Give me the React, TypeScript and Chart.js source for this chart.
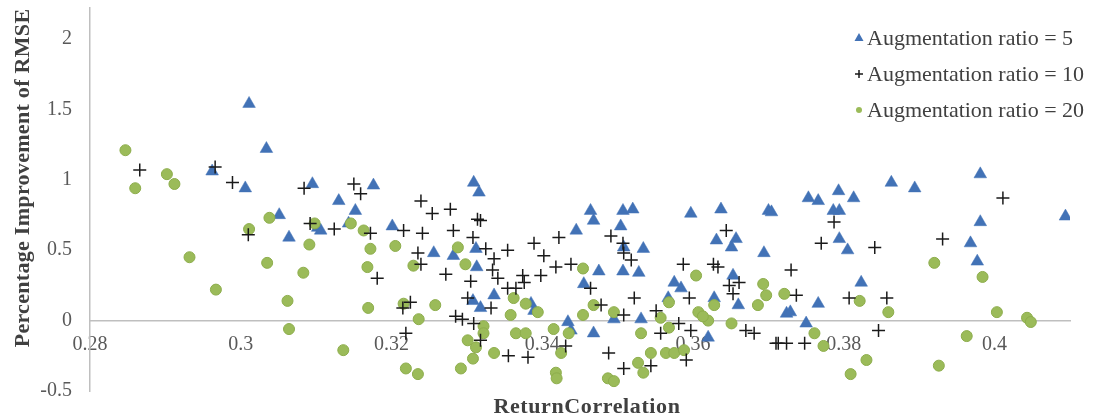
import React, { useEffect, useRef } from 'react';
import { Chart, registerables } from 'chart.js';

Chart.register(...registerables);

// ---- Data ----
const seriesLabels = ['Augmentation ratio = 5', 'Augmentation ratio = 10', 'Augmentation ratio = 20'];
const xTitle = 'ReturnCorrelation';
const yTitle = 'Percentage Improvement of RMSE';
const xTicks = [0.28, 0.3, 0.32, 0.34, 0.36, 0.38, 0.4];
const yTicks = [-0.5, 0, 0.5, 1, 1.5, 2];

// Augmentation ratio = 5 (blue triangles): [ReturnCorrelation, improvement]
const ratio5: [number, number][] = [
  [0.3011, 1.54], [0.3034, 1.22], [0.2962, 1.06], [0.3006, 0.94], [0.3051, 0.75],
  [0.3064, 0.59], [0.3095, 0.97], [0.3102, 0.66], [0.3176, 0.96], [0.3130, 0.85],
  [0.3152, 0.78], [0.3106, 0.64], [0.3143, 0.69], [0.3201, 0.67], [0.3256, 0.48],
  [0.3282, 0.46], [0.3309, 0.98], [0.3316, 0.91], [0.3312, 0.51], [0.3313, 0.38],
  [0.3308, 0.14], [0.3318, 0.09], [0.3336, 0.18], [0.3445, 0.64], [0.3464, 0.78],
  [0.3468, 0.71], [0.3475, 0.35], [0.3507, 0.78], [0.3504, 0.67], [0.3507, 0.35],
  [0.3455, 0.26], [0.3434, -0.01], [0.3438, -0.07], [0.3468, -0.09], [0.3495, 0.01],
  [0.3508, 0.52], [0.3385, 0.12], [0.3389, 0.07], [0.3520, 0.79], [0.3534, 0.51],
  [0.3528, 0.34], [0.3597, 0.76], [0.3637, 0.79], [0.3700, 0.78], [0.3631, 0.57],
  [0.3657, 0.58], [0.3651, 0.52], [0.3694, 0.48], [0.3575, 0.27], [0.3584, 0.23],
  [0.3653, 0.32], [0.3567, 0.16], [0.3628, 0.16], [0.3660, 0.11], [0.3531, 0.01],
  [0.3620, -0.12], [0.3704, 0.77], [0.3753, 0.87], [0.3766, 0.85], [0.3793, 0.92],
  [0.3813, 0.87], [0.3786, 0.78], [0.3794, 0.78], [0.3794, 0.58], [0.3805, 0.50],
  [0.3863, 0.98], [0.3894, 0.94], [0.3823, 0.27], [0.3766, 0.12], [0.3724, 0.05],
  [0.3729, 0.06], [0.3750, -0.02], [0.3981, 1.04], [0.4094, 0.74], [0.3981, 0.70],
  [0.3968, 0.55], [0.3977, 0.42],
];

// Augmentation ratio = 10 (black crosses)
const ratio10: [number, number][] = [
  [0.2866, 1.07], [0.2966, 1.09], [0.2989, 0.98], [0.3010, 0.61], [0.3084, 0.94],
  [0.3092, 0.69], [0.3150, 0.97], [0.3159, 0.90], [0.3124, 0.65], [0.3172, 0.62],
  [0.3216, 0.64], [0.3239, 0.85], [0.3254, 0.76], [0.3278, 0.79], [0.3241, 0.62],
  [0.3282, 0.64], [0.3235, 0.48], [0.3239, 0.40], [0.3272, 0.33], [0.3181, 0.30],
  [0.3314, 0.72], [0.3308, 0.59], [0.3215, 0.09], [0.3225, 0.13], [0.3219, -0.09],
  [0.3285, 0.03], [0.3294, 0.01], [0.3305, 0.28], [0.3301, 0.16], [0.3309, -0.02],
  [0.3318, 0.71], [0.3325, 0.51], [0.3336, 0.44], [0.3354, 0.50], [0.3389, 0.55],
  [0.3402, 0.46], [0.3422, 0.59], [0.3418, 0.38], [0.3438, 0.40], [0.3398, 0.32],
  [0.3374, 0.32], [0.3376, 0.27], [0.3334, 0.36], [0.3341, 0.30], [0.3354, 0.23],
  [0.3365, 0.23], [0.3332, 0.09], [0.3318, -0.14], [0.3355, -0.25], [0.3381, -0.26],
  [0.3431, -0.18], [0.3464, 0.23], [0.3478, 0.11], [0.3491, 0.60], [0.3507, 0.55],
  [0.3508, 0.48], [0.3508, 0.04], [0.3488, -0.23], [0.3508, -0.34], [0.3518, 0.43],
  [0.3644, 0.64], [0.3587, 0.40], [0.3627, 0.40], [0.3633, 0.38], [0.3648, 0.25],
  [0.3661, 0.27], [0.3653, 0.19], [0.3595, 0.16], [0.3522, 0.16], [0.3551, 0.07],
  [0.3581, -0.02], [0.3557, -0.09], [0.3597, -0.07], [0.3670, -0.07], [0.3681, -0.09],
  [0.3710, -0.16], [0.3591, -0.28], [0.3544, -0.32], [0.3787, 0.70], [0.3770, 0.55],
  [0.3841, 0.52], [0.3730, 0.36], [0.3737, 0.18], [0.3807, 0.16], [0.3857, 0.16],
  [0.3846, -0.07], [0.3713, -0.16], [0.3724, -0.16], [0.3748, -0.16], [0.4011, 0.87],
  [0.3931, 0.58],
];

// Augmentation ratio = 20 (green circles)
const ratio20: [number, number][] = [
  [0.2847, 1.21], [0.2902, 1.04], [0.2860, 0.94], [0.2912, 0.97], [0.2932, 0.45],
  [0.2967, 0.22], [0.3011, 0.65], [0.3038, 0.73], [0.3035, 0.41], [0.3062, 0.14],
  [0.3064, -0.06], [0.3091, 0.54], [0.3083, 0.34], [0.3098, 0.69], [0.3146, 0.69],
  [0.3163, 0.64], [0.3172, 0.51], [0.3205, 0.53], [0.3168, 0.38], [0.3229, 0.39],
  [0.3288, 0.52], [0.3298, 0.40], [0.3169, 0.09], [0.3216, 0.12], [0.3258, 0.11],
  [0.3236, 0.01], [0.3136, -0.21], [0.3219, -0.34], [0.3235, -0.38], [0.3292, -0.34],
  [0.3301, -0.14], [0.3308, -0.27], [0.3312, -0.19], [0.3454, 0.37], [0.3362, 0.16],
  [0.3378, 0.12], [0.3394, 0.06], [0.3358, 0.04], [0.3322, -0.04], [0.3322, -0.09],
  [0.3365, -0.09], [0.3378, -0.09], [0.3415, -0.06], [0.3336, -0.23], [0.3425, -0.23],
  [0.3418, -0.37], [0.3419, -0.41], [0.3454, 0.04], [0.3468, 0.11], [0.3495, 0.06],
  [0.3487, -0.41], [0.3495, -0.43], [0.3604, 0.32], [0.3568, 0.13], [0.3557, 0.02],
  [0.3568, -0.05], [0.3607, 0.06], [0.3620, 0.00], [0.3613, 0.03], [0.3628, 0.11],
  [0.3651, -0.02], [0.3531, -0.09], [0.3544, -0.23], [0.3564, -0.23], [0.3575, -0.23],
  [0.3588, -0.21], [0.3527, -0.30], [0.3534, -0.37], [0.3693, 0.26], [0.3697, 0.18],
  [0.3686, 0.11], [0.3721, 0.19], [0.3821, 0.14], [0.3859, 0.06], [0.3761, -0.09],
  [0.3773, -0.18], [0.3830, -0.28], [0.3809, -0.38], [0.3920, 0.41], [0.3984, 0.31],
  [0.4003, 0.06], [0.4043, 0.02], [0.4048, -0.01], [0.3963, -0.11], [0.3926, -0.32],
  [0.3435, -0.09],
];

// ---- Styles ----
const BLUE = '#4272B6';
const BLACK = '#1a1a1a';
const GREEN = '#9BBB59';
const AXIS = '#BFBFBF';
const TICK_COLOR = '#595959';
const TEXT_COLOR = '#404040';
const FONT = '"Liberation Serif", "Times New Roman", serif';

const overlayPlugin = {
  id: 'overlay',
  afterDraw(chart: any) {
    const ctx: any = chart.ctx;
    ctx.save();
    // axis titles
    ctx.fillStyle = TEXT_COLOR;
    ctx.font = `bold 22px ${FONT}`;
    ctx.textAlign = 'center';
    ctx.textBaseline = 'middle';
    ctx.letterSpacing = '0.6px';
    ctx.fillText(xTitle, 587, 407);
    ctx.save();
    ctx.letterSpacing = '0.3px';
    ctx.translate(23, 178);
    ctx.rotate(-Math.PI / 2);
    ctx.fillText(yTitle, 0, 0);
    ctx.restore();
    ctx.letterSpacing = '0px';

    // legend
    const rows = [38, 74, 110];
    const mx = 859;
    ctx.font = `22px ${FONT}`;
    ctx.textAlign = 'left';
    ctx.fillStyle = TEXT_COLOR;
    seriesLabels.forEach((label, i) => {
      const y = rows[i];
      ctx.save();
      if (i === 0) {
        ctx.fillStyle = BLUE;
        ctx.beginPath();
        ctx.moveTo(mx, y - 5);
        ctx.lineTo(mx + 4.5, y + 3);
        ctx.lineTo(mx - 4.5, y + 3);
        ctx.closePath();
        ctx.fill();
      } else if (i === 1) {
        ctx.strokeStyle = BLACK;
        ctx.lineWidth = 1.5;
        ctx.beginPath();
        ctx.moveTo(mx - 4, y);
        ctx.lineTo(mx + 4, y);
        ctx.moveTo(mx, y - 4);
        ctx.lineTo(mx, y + 4);
        ctx.stroke();
      } else {
        ctx.fillStyle = GREEN;
        ctx.beginPath();
        ctx.arc(mx, y, 3, 0, Math.PI * 2);
        ctx.fill();
      }
      ctx.restore();
      ctx.fillText(label, 867, y + 1);
    });
    ctx.restore();
  },
};

export default function App() {
  const canvasRef = useRef<HTMLCanvasElement>(null);

  useEffect(() => {
    if (!canvasRef.current) return;
    const toPoints = (arr: [number, number][]) => arr.map(([x, y]) => ({ x, y }));
    const chart = new Chart(canvasRef.current, {
      type: 'scatter',
      data: {
        datasets: [
          {
            label: seriesLabels[0],
            data: toPoints(ratio5),
            pointStyle: 'triangle',
            pointRadius: 7.3,
            pointBackgroundColor: BLUE,
            pointBorderColor: BLUE,
            pointBorderWidth: 0.5,
            order: 3,
          },
          {
            label: seriesLabels[1],
            data: toPoints(ratio10),
            pointStyle: 'cross',
            pointRadius: 6.5,
            pointBackgroundColor: BLACK,
            pointBorderColor: BLACK,
            pointBorderWidth: 1.5,
            order: 1,
          },
          {
            label: seriesLabels[2],
            data: toPoints(ratio20),
            pointStyle: 'circle',
            pointRadius: 5.5,
            pointBackgroundColor: GREEN,
            pointBorderColor: '#8DAD4C',
            pointBorderWidth: 1,
            order: 2,
          },
        ],
      },
      options: {
        animation: false,
        responsive: true,
        maintainAspectRatio: false,
        layout: { padding: { top: 8, right: 23, bottom: 28, left: 0 } },
        plugins: {
          legend: { display: false },
          tooltip: { enabled: false },
        },
        scales: {
          x: {
            type: 'linear',
            min: 0.28,
            max: 0.41,
            position: { y: 0 } as any,
            afterBuildTicks: (scale: any) => {
              scale.ticks = xTicks.map((v) => ({ value: v }));
            },
            afterFit: (scale: any) => {
              scale.paddingLeft = 0;
              scale.paddingRight = 0;
              scale.paddingTop = 0;
              scale.paddingBottom = 0;
            },
            ticks: {
              callback: (v: any) => String(v),
              font: { family: FONT, size: 20 },
              color: TICK_COLOR,
              padding: 12,
              autoSkip: false,
              maxRotation: 0,
            },
            grid: { drawOnChartArea: false, drawTicks: false },
            border: { display: true, color: AXIS, width: 1.5 },
          },
          y: {
            type: 'linear',
            min: -0.5,
            max: 2.22,
            afterBuildTicks: (scale: any) => {
              scale.ticks = yTicks.map((v) => ({ value: v }));
            },
            afterFit: (scale: any) => {
              scale.width = 90;
              scale.paddingTop = 0;
              scale.paddingBottom = 0;
              scale.paddingLeft = 0;
              scale.paddingRight = 0;
            },
            ticks: {
              callback: (v: any) => String(v),
              font: { family: FONT, size: 20 },
              color: TICK_COLOR,
              padding: 18,
              autoSkip: false,
            },
            grid: { drawOnChartArea: false, drawTicks: false },
            border: { display: true, color: AXIS, width: 1.5 },
          },
        },
      },
      plugins: [overlayPlugin],
    });
    return () => chart.destroy();
  }, []);

  return (
    <div style={{ position: 'fixed', left: 0, top: 0, width: 1093, height: 419, background: '#ffffff' }}>
      <canvas ref={canvasRef} />
    </div>
  );
}
